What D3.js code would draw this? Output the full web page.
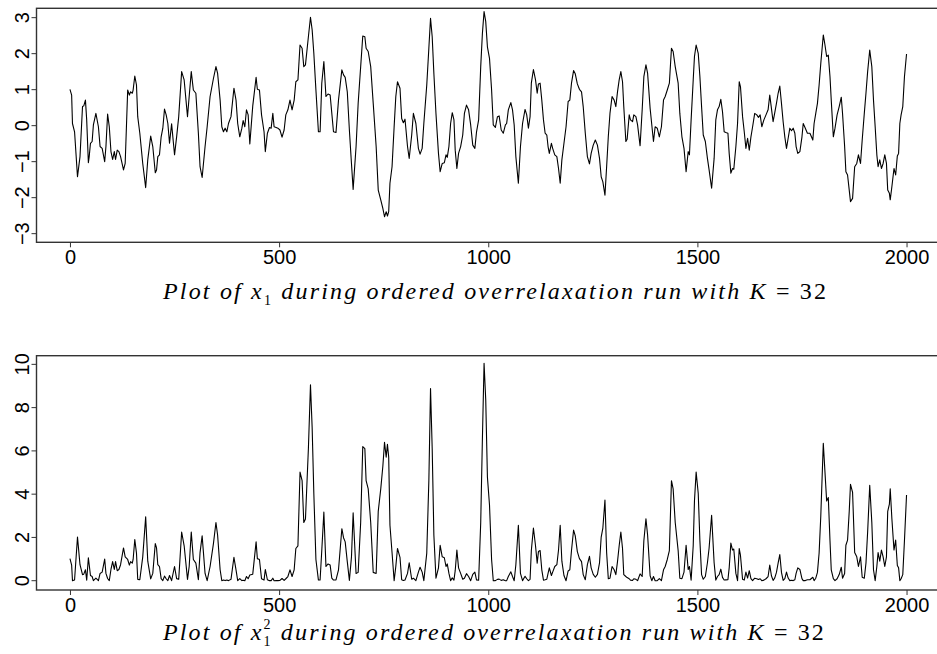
<!DOCTYPE html>
<html>
<head>
<meta charset="utf-8">
<script src="https://cdn.jsdelivr.net/npm/d3@7"></script>
<style>
  body { margin: 0; background: #fff; }
  svg { display: block; }
</style>
</head>
<body>
<svg id="drawing_region"></svg>
<script>
// iteration numbers and x1 values
const iter = [
  0,4,6,11,18,24,30,33,37,40,44,46,49,53,56,62,68,72,77,83,86,90,94,98,102,106,109,113,117,121,
  128,132,138,142,145,149,151,155,159,162,167,174,181,186,193,198,204,207,210,214,218,222,226,230,234,238,
  243,250,255,260,267,273,281,285,290,295,301,307,311,316,323,328,335,343,349,353,359,363,367,371,375,379,
  385,392,397,401,406,411,414,418,422,426,430,437,445,448,453,458,464,467,472,477,481,485,488,493,497,502,
  507,512,516,521,526,531,536,540,545,550,555,559,563,570,575,579,583,588,594,598,602,607,612,617,622,
  626,630,636,642,650,654,658,663,668,673,677,684,689,695,700,705,708,713,719,725,732,737,743,748,752,756,
  759,762,765,770,775,779,783,789,793,797,801,807,811,817,821,827,833,837,842,846,853,858,862,866,870,875,
  881,885,890,895,899,902,906,910,914,918,921,925,929,934,939,943,948,953,958,963,968,972,977,982,986,990,
  994,998,1003,
  1008,1012,1017,1022,1026,1031,1036,1041,1044,1048,1054,1058,1062,1066,1072,1077,1082,1088,1092,1096,1100,
  1103,1108,1113,1117,1120,1124,1128,1132,1136,1140,1143,1146,1151,1154,1159,1164,1168,1172,1176,1181,1186,
  1191,1195,1199,1204,1208,1213,1218,1223,1227,1232,1237,1242,1246,1251,1256,1261,1266,1270,1274,1279,1283,
  1287,1291,1296,1301,1305,1309,1313,1317,1321,1324,1329,1332,1337,1340,1345,1348,1353,1357,1363,1368,1372,
  1377,1381,
  1387,1391,1395,1399,1404,1409,1414,1419,1423,1428,1433,1438,1442,1447,1454,1458,1463,1468,1473,1478,1481,
  1485,1490,1493,1497,1502,1506,1510,1514,1519,1524,1528,1534,1540,1544,1548,1552,1556,1560,1564,1568,1573,
  1576,1580,1584,1587,1592,1596,1600,1603,1608,1612,1616,1620,1624,1628,1632,1637,1642,1646,1650,1654,1659,
  1664,1669,1673,1677,1681,1685,1689,1693,1697,1701,1705,1709,1713,1717,1721,1725,1729,1733,1736,1740,1745,
  1750,1753,1758,1763,
  1769,1776,1779,1783,1787,1791,1795,1801,1805,1809,1813,1817,1820,1825,1829,1834,1839,1844,1847,1852,1855,
  1859,1863,1866,1871,1876,1881,1885,1890,1894,1899,1903,1907,1912,1917,1921,1925,1929,1932,1936,1940,1944,
  1948,1952,1955,1959,1961,1965,1970,1974,1978,1981,1984,1987,1991,1995,2000
];
const x1 = [
  1.01,0.85,0.06,-0.17,-1.42,-0.86,0.53,0.55,0.71,0.16,-1.03,-0.86,-0.49,-0.44,0.02,0.34,-0.03,-0.58,-0.63,-1.0,
  -0.58,0.32,-0.03,-0.72,-0.94,-0.72,-0.94,-0.68,-0.72,-0.86,
  -1.23,-1.05,0.99,0.85,0.94,0.90,0.99,1.38,1.13,0.25,-0.21,-1.05,-1.72,-0.95,-0.29,-0.58,-1.31,-1.23,-0.86,
  -0.81,-0.31,-0.07,0.46,0.30,0.06,-0.49,
  0.05,-0.81,-0.31,0.25,1.50,1.27,0.25,0.81,1.50,0.99,0.90,-0.21,-1.14,-1.44,-0.58,-0.03,0.81,1.31,1.64,1.45,
  0.71,-0.03,-0.17,-0.07,-0.17,0.06,
  0.25,1.04,0.71,0.06,-0.31,-0.07,0.14,-0.03,0.44,0.30,-0.51,0.55,1.34,1.01,0.99,0.30,-0.17,-0.72,-0.21,-0.05,
  -0.07,0.34,-0.03,-0.05,-0.07,-0.12,
  -0.32,-0.12,0.30,0.44,0.71,0.44,0.71,1.22,1.27,2.24,2.15,1.64,1.69,2.47,3.01,2.66,2.01,0.99,-0.17,-0.17,
  1.18,1.78,0.81,0.88,0.85,
  0.34,-0.17,-0.19,0.71,1.55,1.41,1.34,0.94,-0.12,-1.05,-1.77,-0.58,0.62,1.64,2.49,2.47,2.15,2.06,1.64,0.62,
  -0.58,-1.79,-2.06,-2.30,-2.53,-2.39,
  -2.51,-2.39,-1.60,-1.14,-0.03,0.81,1.22,1.04,0.20,0.08,0.18,-0.58,-0.91,-0.26,0.34,0.06,-0.63,-0.79,-0.63,
  0.06,1.13,2.15,2.98,2.47,1.45,0.34,
  -0.77,-1.28,-1.05,-1.03,-0.81,-0.88,-0.58,0.06,0.36,0.16,-0.68,-1.19,-0.77,-0.58,-0.26,0.34,0.57,0.44,0.02,
  -0.54,-0.63,-0.17,0.16,1.64,2.56,3.17,
  2.89,2.19,1.87,
  0.99,0.02,-0.05,0.25,0.27,-0.12,-0.21,0.02,0.06,0.44,0.64,0.44,0.02,-0.86,-1.60,-0.58,0.06,0.45,0.30,-0.07,
  0.25,
  1.18,1.56,1.27,0.90,1.16,1.18,0.71,0.16,-0.21,-0.26,-0.58,-0.77,-0.49,-0.63,-0.81,-0.86,-1.19,-1.60,-0.95,
  -0.49,-0.03,
  0.67,0.71,1.18,1.53,1.44,1.16,1.01,0.94,0.53,-0.21,-0.86,-1.06,-0.77,-0.54,-0.40,-0.54,-0.91,-1.42,-1.56,
  -1.93,-1.14,
  -0.31,0.34,0.81,0.71,0.53,0.94,1.27,1.50,1.22,0.53,-0.44,-0.38,0.30,0.16,0.11,0.30,0.25,0.02,-0.56,0.44,1.36,
  1.69,1.45,
  0.48,0.02,-0.44,-0.03,-0.07,-0.31,-0.03,0.71,0.81,0.99,1.18,2.15,2.06,1.64,1.18,0.34,-0.31,-0.63,-1.28,-0.72,
  -0.81,
  0.16,1.27,1.92,2.24,2.01,1.36,0.53,-0.26,-0.44,-0.91,-1.23,-1.74,-0.91,0.16,0.44,0.53,0.73,0.39,-0.17,-0.19,
  -0.21,
  -0.77,-1.32,-1.19,-1.21,-0.58,0.06,1.22,1.08,0.25,-0.17,-0.63,-0.35,-0.68,-0.31,-0.03,0.34,0.30,0.23,0.30,
  -0.03,0.16,
  0.30,0.44,0.85,0.48,0.11,0.36,0.62,0.90,1.10,0.62,0.11,-0.31,-0.63,-0.35,-0.07,-0.14,-0.07,-0.21,-0.58,-0.77,
  -0.72,
  -0.31,0.06,-0.07,-0.21,
  -0.21,-0.40,0.06,0.34,0.62,1.13,1.73,2.52,2.24,1.92,1.96,1.36,0.71,-0.31,-0.07,0.30,0.53,0.79,0.34,-0.58,
  -1.28,
  -1.37,-1.79,-2.11,-2.02,-1.14,-1.05,-0.81,-1.05,-0.40,0.34,0.90,1.50,2.10,1.64,0.71,-0.03,-0.81,-1.14,-0.95,
  -1.19,-1.05,
  -0.81,-1.05,-1.79,-1.88,-2.06,-1.69,-1.19,-1.37,-0.84,-0.77,0.06,0.30,0.53,1.36,1.99
];

const xTicks = [0, 500, 1000, 1500, 2000];
const yTicksTop = [-3, -2, -1, 0, 1, 2, 3];
const yTicksBottom = [0, 2, 4, 6, 8, 10];

const W = 937, H = 654;

const svg = d3.select('#drawing_region')
    .attr('width', W)
    .attr('height', H);

const x = d3.scaleLinear().domain([-80, 2080]).range([36.5, 940]);

const panels = [
  { top: 8.3, bottom: 242.3, domain: [-3.24, 3.26], ticks: yTicksTop,
    values: x1, sq: false, titleY: 299 },
  { top: 355.7, bottom: 590, domain: [-0.43, 10.4], ticks: yTicksBottom,
    values: x1.map(v => v * v), sq: true, titleY: 640 }
];

panels.forEach(p => {
  const y = d3.scaleLinear().domain(p.domain).range([p.bottom, p.top]);
  const g = svg.append('g');

  const pts = iter.map((it, i) => [it, p.values[i]]);

  g.append('path')
      .datum(pts)
      .attr('fill', 'none')
      .attr('stroke', '#000')
      .attr('stroke-width', 1.1)
      .attr('stroke-linejoin', 'round')
      .attr('d', d3.line().x(d => x(d[0])).y(d => y(d[1])));

  // frame (right side runs off the picture)
  g.append('rect')
      .attr('x', x.range()[0]).attr('y', p.top)
      .attr('width', x.range()[1] - x.range()[0])
      .attr('height', p.bottom - p.top)
      .attr('fill', 'none')
      .attr('stroke', '#333')
      .attr('stroke-width', 1.4);

  // x axis
  const xa = g.append('g')
      .attr('transform', `translate(0,${p.bottom})`)
      .call(d3.axisBottom(x).tickValues(xTicks).tickSize(5).tickPadding(3).tickFormat(d3.format('d')));
  xa.select('.domain').remove();
  xa.selectAll('line').attr('stroke', '#333');
  xa.selectAll('text')
      .attr('font-family', 'Liberation Sans, Arial, sans-serif')
      .attr('font-size', 20)
      .attr('fill', '#000');

  // y axis, labels turned like R's default
  const ya = g.append('g')
      .attr('transform', `translate(${x.range()[0]},0)`)
      .call(d3.axisLeft(y).tickValues(p.ticks).tickSize(5).tickFormat(d3.format('d')));
  ya.select('.domain').remove();
  ya.selectAll('line').attr('stroke', '#333');
  ya.selectAll('text')
      .attr('x', null).attr('dy', null)
      .attr('text-anchor', 'middle')
      .attr('transform', d => `translate(${28.5 - x.range()[0]},${y(d)}) rotate(-90)`)
      .attr('y', 0)
      .attr('font-family', 'Liberation Sans, Arial, sans-serif')
      .attr('font-size', 20)
      .attr('fill', '#000');
  ya.selectAll('.tick').attr('transform', null);
  ya.selectAll('.tick line').attr('transform', d => `translate(0,${y(d)})`);

  drawTitle(p.titleY, p.sq);
});

function drawTitle(yPos, sq) {
  const left = 163, width = 664;
  const t = svg.append('text')
      .attr('x', left).attr('y', yPos)
      .attr('font-family', 'Liberation Serif, Times New Roman, serif')
      .attr('font-size', 24)
      .attr('font-style', 'italic')
      .style('white-space', 'pre');
  t.append('tspan').text('Plot of ');
  t.append('tspan').text('x');
  t.append('tspan').attr('font-size', 14).attr('font-style', 'normal').attr('dy', 6).text('1');
  let sup = null;
  if (sq) {
    sup = t.append('tspan').attr('font-size', 14).attr('font-style', 'normal')
        .attr('dx', -7).attr('dy', -17).text('2');
  }
  t.append('tspan').attr('dy', sq ? 11 : -6).text(' during ordered overrelaxation run with ');
  t.append('tspan').text('K');
  t.append('tspan').attr('font-style', 'normal').text(' = 32');

  const n = t.text().length;
  const w = t.node().getBBox().width;
  const ls = (width - w) / (n - 1);
  t.attr('letter-spacing', ls);
  if (sup) sup.attr('dx', -(7 + ls));
}
</script>
</body>
</html>
